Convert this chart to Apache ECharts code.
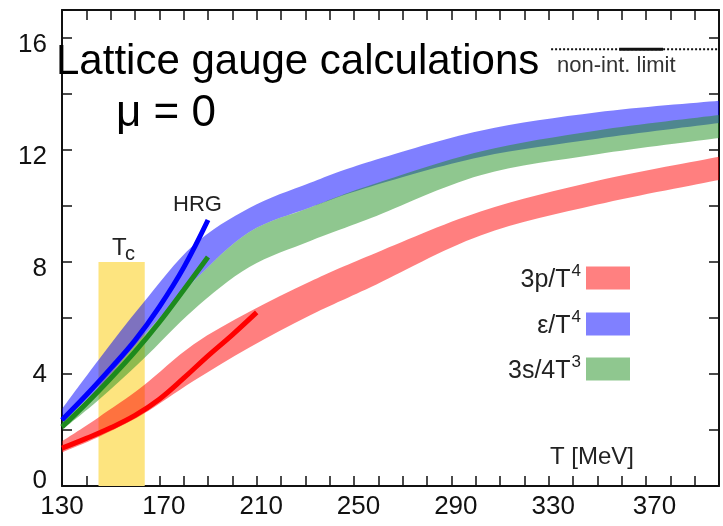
<!DOCTYPE html>
<html>
<head>
<meta charset="utf-8">
<script src="https://cdn.jsdelivr.net/npm/echarts@6/dist/echarts.min.js"></script>
<style>
  html, body { margin: 0; padding: 0; background: #fff; }
  #chart { width: 723px; height: 526px; }
</style>
</head>
<body>
<div id="chart"></div>
<script>
// ── Data ────────────────────────────────────────────────────────────────────
// lattice bands (lower / upper edge) at these temperatures, MeV
const bandT = [130, 145, 163, 184, 207, 232, 257, 302, 350, 400];
const pLo = [1.2, 1.75, 2.55, 3.75, 4.95, 6.1, 7.11, 8.95, 10.05, 10.93];
const pHi = [1.6, 2.45, 3.55, 5.05, 6.22, 7.3, 8.25, 9.8, 10.9, 11.76];
const eLo = [2.3, 3.5, 5.3, 7.3, 9.07, 9.95, 10.7, 11.75, 12.4, 12.96];
const eHi = [2.75, 4.5, 6.5, 8.6, 9.93, 10.83, 11.6, 12.69, 13.35, 13.76];
const sLo = [2.0, 3.07, 4.5, 6.29, 7.82, 8.75, 9.57, 11.1, 11.85, 12.43];
const sHi = [2.3, 3.5, 5.3, 7.3, 9.07, 9.95, 10.75, 11.95, 12.7, 13.25];

// hadron resonance gas curves
const hrgT  = [130, 140, 150, 160, 170, 180, 190, 200, 210];
const pHrg  = [1.35, 1.7, 2.08, 2.52, 3.1, 3.85, 4.65, 5.4, 6.2];
const eHrg  = [2.36, 3.25, 4.2, 5.2, 6.4, 7.8, 9.5];
const sHrg  = [2.11, 2.95, 3.85, 4.8, 5.85, 7.0, 8.18];

// transition region and Stefan-Boltzmann limit
const tcRange = [145, 164];
const tcTop = 8;
const sbLimit = 15.6;
const sbDotted = [331, 400];
const sbSolid = [359, 377];

// axes
const xMin = 130, xMax = 400, xStep = 10, xLabelStep = 40, xLastLabel = 370;
const yMin = 0, yMax = 17, yStep = 2, yLabelStep = 4;

const FONT = '"Liberation Sans", Arial, Helvetica, sans-serif';

// ── Helpers ─────────────────────────────────────────────────────────────────
// cubic path through pixel points (Catmull-Rom tangents)
function curveSegs(pts) {
    let d = '';
    for (let i = 0; i < pts.length - 1; i++) {
        const p0 = pts[Math.max(i - 1, 0)], p1 = pts[i], p2 = pts[i + 1], p3 = pts[Math.min(i + 2, pts.length - 1)];
        const c1 = [p1[0] + (p2[0] - p0[0]) / 6, p1[1] + (p2[1] - p0[1]) / 6];
        const c2 = [p2[0] - (p3[0] - p1[0]) / 6, p2[1] - (p3[1] - p1[1]) / 6];
        d += ` C${c1[0]},${c1[1]} ${c2[0]},${c2[1]} ${p2[0]},${p2[1]}`;
    }
    return d;
}

// one band drawn as a filled path between its lower and upper edge
function band(name, lo, hi, fill) {
    return {
        name: name, type: 'custom', silent: true, z: 2,
        itemStyle: { color: fill },
        encode: { x: 0, y: [1, 2] },
        data: bandT.map((t, i) => [t, lo[i], hi[i]]),
        renderItem: (params, api) => {
            if (params.dataIndex !== 0) return null;
            const up = bandT.map((t, i) => api.coord([t, hi[i]]));
            const dn = bandT.map((t, i) => api.coord([t, lo[i]])).reverse();
            const d = `M${up[0][0]},${up[0][1]}` + curveSegs(up) +
                      ` L${dn[0][0]},${dn[0][1]}` + curveSegs(dn) + ' Z';
            return { type: 'path', shape: { pathData: d }, style: { fill: fill } };
        }
    };
}

function hrgLine(vals, color) {
    return {
        type: 'line', smooth: 0.4, symbol: 'none', silent: true,
        lineStyle: { color: color, width: 5, cap: 'butt' },
        z: 5,
        data: vals.map((v, i) => [hrgT[i], v])
    };
}

const axisLine = { show: true, onZero: false, lineStyle: { color: '#111', width: 2 } };
const axisTick = { show: true, inside: true, length: 10, lineStyle: { color: '#111', width: 1.5 } };

const legendRich = {
    m: { fontSize: 25, fontFamily: FONT, color: '#222', lineHeight: 30, verticalAlign: 'bottom' },
    s: { fontSize: 17, fontFamily: FONT, color: '#222', lineHeight: 30, verticalAlign: 'top', padding: [0, 0, 0, 1] }
};
const legendText = {
    '3p/T4': '{m|3p/T}{s|4}',
    'ε/T4': '{m|ε/T}{s|4}',
    '3s/4T3': '{m|3s/4T}{s|3}'
};
function legendFor(name, color, top) {
    return {
        data: [{ name: name, icon: 'rect', itemStyle: { color: color, borderWidth: 0 } }],
        right: 93, top: top, orient: 'vertical', align: 'right',
        itemWidth: 44, itemHeight: 23, padding: 0, selectedMode: false,
        formatter: n => legendText[n],
        textStyle: { rich: legendRich, fontFamily: FONT }
    };
}

// tick labels in the figure sit a little off their ticks
const tickFont = { fontSize: 26, fontFamily: FONT, color: '#111' };
const xRich = {
    a: Object.assign({}, tickFont),
    b: Object.assign({ padding: [0, 0, 0, 9] }, tickFont),
    c: Object.assign({ padding: [0, 0, 0, 17] }, tickFont)
};
const yRich = {
    a: Object.assign({ padding: [13, 0, 0, 0] }, tickFont),
    b: Object.assign({ padding: [2, 0, 0, 0] }, tickFont),
    c: Object.assign({ padding: [0, 0, 11, 0] }, tickFont)
};

// ── Chart ───────────────────────────────────────────────────────────────────
const chart = echarts.init(document.getElementById('chart'), null, { renderer: 'canvas' });

chart.setOption({
    animation: false,
    backgroundColor: '#fff',
    grid: { left: 62, right: 4, top: 10, bottom: 40 },
    xAxis: [
        {
            type: 'value', min: xMin, max: xMax, interval: xStep, position: 'bottom',
            axisLine: axisLine, axisTick: axisTick, splitLine: { show: false },
            axisLabel: {
                margin: 8, rich: xRich,
                formatter: v => {
                    if ((v - xMin) % xLabelStep !== 0 || v > xLastLabel) return '';
                    const k = v === xMin ? 'a' : (v === xLastLabel ? 'c' : 'b');
                    return `{${k}|${v}}`;
                }
            }
        },
        {
            type: 'value', min: xMin, max: xMax, interval: xStep, position: 'top',
            axisLine: axisLine, axisTick: axisTick, splitLine: { show: false },
            axisLabel: { show: false }
        }
    ],
    yAxis: [
        {
            type: 'value', min: yMin, max: yMax, interval: yStep, position: 'left',
            axisLine: axisLine, axisTick: axisTick, splitLine: { show: false },
            axisLabel: {
                margin: 15, rich: yRich,
                formatter: v => {
                    if (v % yLabelStep !== 0) return '';
                    const k = v === 0 ? 'c' : (v === 4 ? 'b' : 'a');
                    return `{${k}|${v}}`;
                }
            }
        },
        {
            type: 'value', min: yMin, max: yMax, interval: yStep, position: 'right',
            axisLine: axisLine, axisTick: axisTick, splitLine: { show: false },
            axisLabel: { show: false }
        }
    ],
    legend: [
        legendFor('3p/T4', '#ff8080', 263),
        legendFor('ε/T4', '#8080ff', 309),
        legendFor('3s/4T3', '#8fc78f', 354)
    ],
    series: [
        {
            type: 'custom', silent: true, z: 1,
            renderItem: (params, api) => {
                const a = api.coord([api.value(0), api.value(2)]);
                const b = api.coord([api.value(1), 0]);
                return {
                    type: 'rect',
                    shape: { x: a[0], y: a[1], width: b[0] - a[0], height: b[1] - a[1] },
                    style: { fill: '#fde47f' }
                };
            },
            encode: { x: [0, 1], y: 2 },
            data: [[tcRange[0], tcRange[1], tcTop]]
        },
        band('3p/T4', pLo, pHi, 'rgba(255,0,0,0.5)'),
        band('ε/T4', eLo, eHi, 'rgba(0,0,255,0.5)'),
        band('3s/4T3', sLo, sHi, 'rgba(31,143,31,0.5)'),
        hrgLine(pHrg, '#ff0000'),
        hrgLine(sHrg, '#1d8a1d'),
        hrgLine(eHrg, '#0000ff'),
        {
            type: 'line', symbol: 'none', silent: true, z: 6,
            lineStyle: { color: '#111', width: 2, type: [2, 2] },
            data: sbDotted.map(t => [t, sbLimit])
        },
        {
            type: 'line', symbol: 'none', silent: true, z: 6,
            lineStyle: { color: '#111', width: 3 },
            data: sbSolid.map(t => [t, sbLimit])
        }
    ],
    graphic: [
        { type: 'text', left: 56, top: 41, z: 10,
          style: { text: 'Lattice gauge calculations', font: '42px ' + FONT, fill: '#000' } },
        { type: 'text', left: 116, top: 92, z: 10,
          style: { text: 'μ = 0', font: '44px ' + FONT, fill: '#000' } },
        { type: 'text', left: 557, top: 55, z: 10,
          style: { text: 'non-int. limit', font: '22px ' + FONT, fill: '#333' } },
        { type: 'text', left: 173, top: 194, z: 10,
          style: { text: 'HRG', font: '22px ' + FONT, fill: '#222' } },
        { type: 'text', left: 112, top: 236, z: 10,
          style: { text: 'T', font: '24px ' + FONT, fill: '#222' } },
        { type: 'text', left: 125, top: 244, z: 10,
          style: { text: 'c', font: '20px ' + FONT, fill: '#222' } },
        { type: 'text', left: 550, top: 445, z: 10,
          style: { text: 'T [MeV]', font: '24px ' + FONT, fill: '#222' } }
    ]
});
</script>
</body>
</html>
